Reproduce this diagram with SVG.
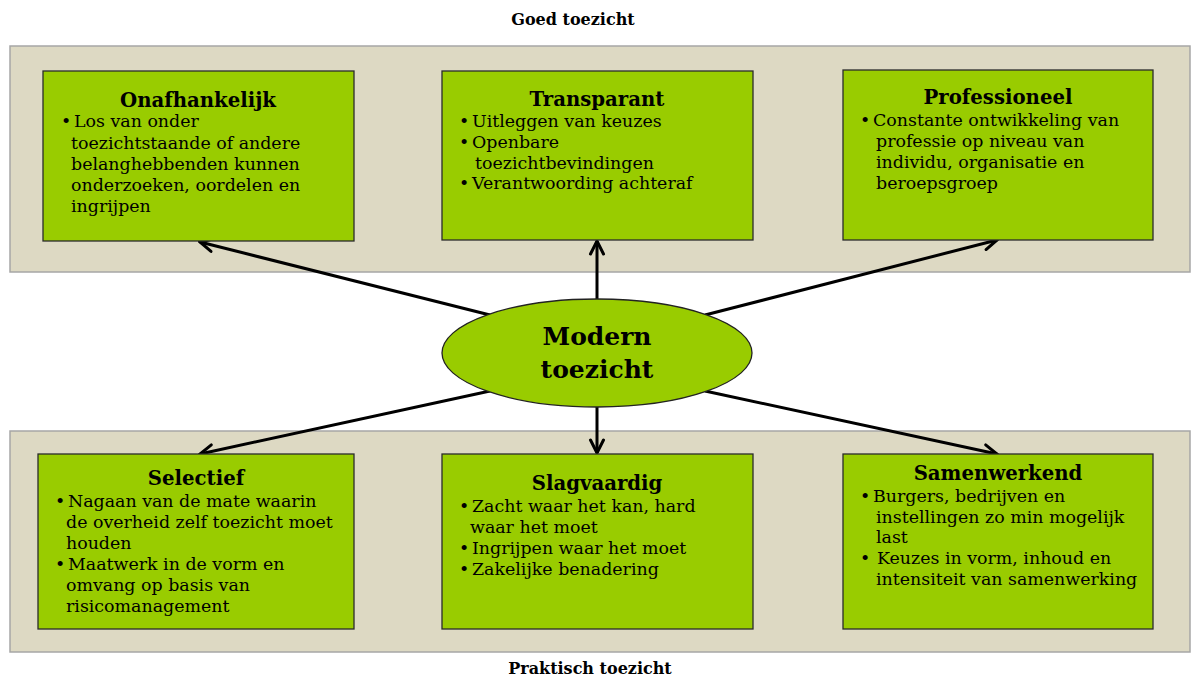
<svg xmlns="http://www.w3.org/2000/svg" width="1192" height="679" viewBox="0 0 1192 679">
<style>
.panel{fill:#ddd9c3;stroke:#a6a6a6;stroke-width:1.5}
.box{fill:#99cc00;stroke:#2b2b2b;stroke-width:1.3}
.title{font-family:"DejaVu Serif","Liberation Serif",serif;font-weight:bold;font-size:19.7px;fill:#000;text-anchor:middle}
.body{font-family:"DejaVu Serif","Liberation Serif",serif;font-size:17.4px;fill:#000}
.cap{font-family:"DejaVu Serif","Liberation Serif",serif;font-weight:bold;font-size:16px;fill:#000;text-anchor:middle}
.big{font-family:"DejaVu Serif","Liberation Serif",serif;font-weight:bold;font-size:25px;fill:#000;text-anchor:middle}
.conn{stroke:#000;stroke-width:3;fill:none;marker-end:url(#arr)}
</style>
<defs>
<marker id="arr" markerUnits="userSpaceOnUse" viewBox="-16 -9 18 18" refX="0" refY="0" markerWidth="18" markerHeight="18" orient="auto">
<path d="M-13,-6.5 L0,0 L-13,6.5" fill="none" stroke="#000" stroke-width="3" stroke-linecap="round" stroke-linejoin="miter"/>
</marker>
</defs>
<rect width="1192" height="679" fill="#fff"/>
<text class="cap" x="573" y="25">Goed toezicht</text>
<text class="cap" x="590" y="674">Praktisch toezicht</text>
<g id="panel-top"><rect class="panel" x="10" y="46" width="1180" height="226"/></g>
<g id="panel-bottom"><rect class="panel" x="10" y="431" width="1180" height="221"/></g>
<g id="connectors">
<line class="conn" x1="490" y1="315" x2="200" y2="242"/>
<line class="conn" x1="597" y1="320" x2="597" y2="241"/>
<line class="conn" x1="705" y1="315" x2="997" y2="240"/>
<line class="conn" x1="490" y1="391" x2="200" y2="454"/>
<line class="conn" x1="597" y1="390" x2="597" y2="453"/>
<line class="conn" x1="705" y1="391" x2="997" y2="454"/>
</g>
<g id="node-modern">
<ellipse cx="597" cy="353" rx="155" ry="54" fill="#99cc00" stroke="#222" stroke-width="1.3"/>
<text class="big" x="597" y="345">Modern</text>
<text class="big" x="597" y="378">toezicht</text>
</g>
<g id="node-onafhankelijk">
<rect class="box" x="43" y="71" width="311" height="170"/>
<text class="title" x="198" y="107">Onafhankelijk</text>
<text class="body" x="61" y="127">•</text>
<text class="body" x="74" y="127">Los van onder</text>
<text class="body" x="71" y="149">toezichtstaande of andere</text>
<text class="body" x="71" y="170">belanghebbenden kunnen</text>
<text class="body" x="71" y="191">onderzoeken, oordelen en</text>
<text class="body" x="71" y="212">ingrijpen</text>
</g>
<g id="node-transparant">
<rect class="box" x="442" y="71" width="311" height="169"/>
<text class="title" x="597" y="106">Transparant</text>
<text class="body" x="459" y="127">•</text>
<text class="body" x="472" y="127">Uitleggen van keuzes</text>
<text class="body" x="459" y="148">•</text>
<text class="body" x="472" y="148">Openbare</text>
<text class="body" x="475" y="169">toezichtbevindingen</text>
<text class="body" x="459" y="189">•</text>
<text class="body" x="472" y="189">Verantwoording achteraf</text>
</g>
<g id="node-professioneel">
<rect class="box" x="843" y="70" width="310" height="170"/>
<text class="title" x="998" y="104">Professioneel</text>
<text class="body" x="860" y="126">•</text>
<text class="body" x="873" y="126">Constante ontwikkeling van</text>
<text class="body" x="876" y="147">professie op niveau van</text>
<text class="body" x="876" y="168">individu, organisatie en</text>
<text class="body" x="876" y="189">beroepsgroep</text>
</g>
<g id="node-selectief">
<rect class="box" x="38" y="454" width="316" height="175"/>
<text class="title" x="196" y="485">Selectief</text>
<text class="body" x="55" y="507">•</text>
<text class="body" x="68" y="507">Nagaan van de mate waarin</text>
<text class="body" x="66" y="528">de overheid zelf toezicht moet</text>
<text class="body" x="66" y="549">houden</text>
<text class="body" x="55" y="570">•</text>
<text class="body" x="68" y="570">Maatwerk in de vorm en</text>
<text class="body" x="66" y="591">omvang op basis van</text>
<text class="body" x="66" y="612">risicomanagement</text>
</g>
<g id="node-slagvaardig">
<rect class="box" x="442" y="454" width="311" height="175"/>
<text class="title" x="597" y="490">Slagvaardig</text>
<text class="body" x="459" y="512">•</text>
<text class="body" x="472" y="512">Zacht waar het kan, hard</text>
<text class="body" x="470" y="533">waar het moet</text>
<text class="body" x="459" y="554">•</text>
<text class="body" x="472" y="554">Ingrijpen waar het moet</text>
<text class="body" x="459" y="575">•</text>
<text class="body" x="472" y="575">Zakelijke benadering</text>
</g>
<g id="node-samenwerkend">
<rect class="box" x="843" y="454" width="310" height="175"/>
<text class="title" x="998" y="480">Samenwerkend</text>
<text class="body" x="860" y="502">•</text>
<text class="body" x="873" y="502">Burgers, bedrijven en</text>
<text class="body" x="876" y="523">instellingen zo min mogelijk</text>
<text class="body" x="876" y="543">last</text>
<text class="body" x="860" y="564">•</text>
<text class="body" x="877" y="564">Keuzes in vorm, inhoud en</text>
<text class="body" x="876" y="585">intensiteit van samenwerking</text>
</g>
</svg>
